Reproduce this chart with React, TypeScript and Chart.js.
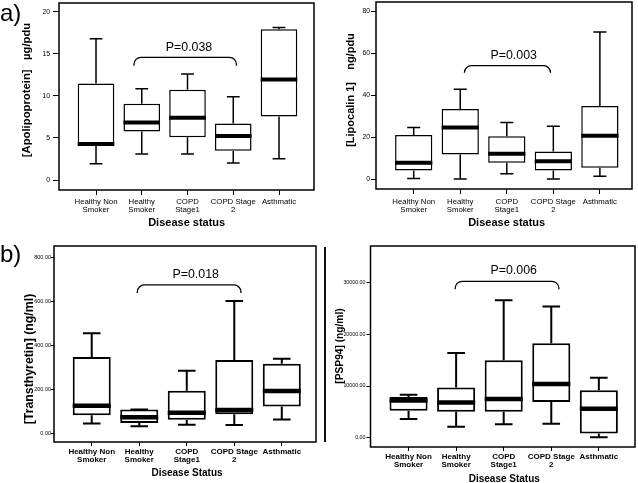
import React, { useEffect, useRef } from "react";
import { Chart, registerables } from "chart.js";
Chart.register(...registerables);

const categories: string[][] = [
  ["Healthy Non", "Smoker"],
  ["Healthy", "Smoker"],
  ["COPD", "Stage1"],
  ["COPD Stage", "2"],
  ["Asthmatic"],
];

// a) left: [Apolipoprotein] µg/pdu
const apoMin = [1.94, 3.09, 3.09, 2.02, 2.53];
const apoQ1 = [4.05, 5.78, 5.1, 3.49, 7.56];
const apoMedian = [4.3, 6.85, 7.4, 5.23, 11.96];
const apoQ3 = [11.5, 9.07, 10.73, 6.73, 17.94];
const apoMax = [16.8, 10.85, 12.63, 9.9, 18.14];
const apoTicks = [0, 5, 10, 15, 20];

// a) right: [Lipocalin 1] ng/pdu
const lipMin = [0.3, 0, 2.5, 0, 1.3];
const lipQ1 = [4.1, 11.7, 7.75, 4.1, 5.4];
const lipMedian = [7.75, 24.5, 12.0, 8.4, 20.6];
const lipQ3 = [21.0, 33.4, 20.4, 13.1, 34.8];
const lipMax = [24.5, 42.8, 26.9, 25.1, 70.0];
const lipTicks = [0, 20, 40, 60, 80];

// b) left: [Transthyretin] (ng/ml)
const ttrMin = [43, 31, 38, 36, 61];
const ttrQ1 = [81, 45, 60, 85, 120];
const ttrMedian = [124, 72, 92, 105, 191];
const ttrQ3 = [345, 107, 192, 332, 315];
const ttrMax = [453, 107, 283, 600, 338];
const ttrTicks = [0, 200, 400, 600, 800];

// b) right: [PSP94] (ng/ml)
const pspMin = [3600, 2100, 2600, 2700, 100];
const pspQ1 = [5200, 5000, 5000, 6900, 800];
const pspMedian = [7200, 6800, 7500, 10400, 5600];
const pspQ3 = [7900, 9700, 15000, 18300, 9200];
const pspMax = [8300, 16400, 26600, 25400, 11600];
const pspTicks = [0, 10000, 20000, 30000];

// significance brackets: compared groups Healthy Smoker vs COPD Stage 2
const pLabels = ["P=0.038", "P=0.003", "P=0.018", "P=0.006"];

const SANS = "'Liberation Sans', Arial, Helvetica, sans-serif";

type Panel = {
  left: number; top: number; w: number; h: number;
  padTop: number; padRight: number; yWidth: number; xHeight: number;
  xMin: number; xMax: number; yMin: number; yMax: number;
  yTicks: number[]; yFmt: (v: number) => string;
  yFont: any; yTickLen: number; yTickPad: number;
  xFont: any; xTickLen: number; xTickPad: number;
  min: number[]; q1: number[]; med: number[]; q3: number[]; max: number[];
  capW: number; lineW: number; medW: number; boxW: number; frameW: number;
  bracket: { x1: number; x2: number; yTop: number; yEnd: number };
};

const panels: Panel[] = [
  {
    left: 0, top: 0, w: 318, h: 240, padTop: 3, padRight: 4, yWidth: 59, xHeight: 50,
    xMin: -0.809, xMax: 4.765, yMin: -1.19, yMax: 21.07,
    yTicks: apoTicks, yFmt: (v) => String(v),
    yFont: { family: SANS, size: 6.8 }, yTickLen: 6, yTickPad: 3,
    xFont: { family: SANS, size: 7.8, lineHeight: 1 }, xTickLen: 5, xTickPad: 3,
    min: apoMin, q1: apoQ1, med: apoMedian, q3: apoQ3, max: apoMax,
    capW: 0.28, lineW: 1.5, medW: 4, boxW: 1.5, frameW: 1.5,
    bracket: { x1: 0.83, x2: 3.07, yTop: 14.6, yEnd: 13.6 },
  },
  {
    left: 318, top: 0, w: 320, h: 240, padTop: 2, padRight: 6, yWidth: 58, xHeight: 51,
    xMin: -0.81, xMax: 4.69, yMin: -4.76, yMax: 84.3,
    yTicks: lipTicks, yFmt: (v) => String(v),
    yFont: { family: SANS, size: 6.8 }, yTickLen: 5, yTickPad: 1,
    xFont: { family: SANS, size: 7.8, lineHeight: 1 }, xTickLen: 5, xTickPad: 4,
    min: lipMin, q1: lipQ1, med: lipMedian, q3: lipQ3, max: lipMax,
    capW: 0.28, lineW: 1.5, medW: 4, boxW: 1.5, frameW: 1.5,
    bracket: { x1: 1.09, x2: 2.94, yTop: 54, yEnd: 50.6 },
  },
  {
    left: 0, top: 240, w: 318, h: 243, padTop: 6, padRight: 2, yWidth: 54, xHeight: 41,
    xMin: -0.794, xMax: 4.72, yMin: -40.9, yMax: 850,
    yTicks: ttrTicks, yFmt: (v) => v.toFixed(2),
    yFont: { family: SANS, size: 5.5 }, yTickLen: 3, yTickPad: 0,
    xFont: { family: SANS, size: 8, weight: "bold", lineHeight: 1 }, xTickLen: 4, xTickPad: 2,
    min: ttrMin, q1: ttrQ1, med: ttrMedian, q3: ttrQ3, max: ttrMax,
    capW: 0.37, lineW: 2, medW: 4.5, boxW: 2, frameW: 1.5,
    bracket: { x1: 0.96, x2: 3.14, yTop: 673, yEnd: 636 },
  },
  {
    left: 318, top: 240, w: 320, h: 243, padTop: 6, padRight: 3, yWidth: 52.5, xHeight: 36,
    xMin: -0.8, xMax: 4.76, yMin: -1800, yMax: 37100,
    yTicks: pspTicks, yFmt: (v) => v.toFixed(2),
    yFont: { family: SANS, size: 5.3 }, yTickLen: 4, yTickPad: 1,
    xFont: { family: SANS, size: 8, weight: "bold", lineHeight: 0.96 }, xTickLen: 4, xTickPad: 2,
    min: pspMin, q1: pspQ1, med: pspMedian, q3: pspQ3, max: pspMax,
    capW: 0.37, lineW: 2, medW: 4.5, boxW: 2, frameW: 1.5,
    bracket: { x1: 0.98, x2: 3.16, yTop: 30270, yEnd: 28720 },
  },
];

function makeChart(canvas: HTMLCanvasElement, p: Panel) {
  const boxPlugin = {
    id: "boxWhiskers",
    afterDatasetsDraw(chart: any) {
      const { ctx, chartArea } = chart;
      const xs = chart.scales.x;
      const ys = chart.scales.y;
      const meta = chart.getDatasetMeta(0);
      ctx.save();
      ctx.strokeStyle = "#000";
      ctx.lineCap = "butt";
      p.med.forEach((m, i) => {
        const bar = meta.data[i];
        const xc = xs.getPixelForValue(i);
        const half = bar.width / 2;
        const cap = Math.abs(xs.getPixelForValue(i + p.capW / 2) - xc);
        const yMax = ys.getPixelForValue(p.max[i]);
        const yMin = ys.getPixelForValue(p.min[i]);
        const yQ1 = ys.getPixelForValue(p.q1[i]);
        const yQ3 = ys.getPixelForValue(p.q3[i]);
        ctx.lineWidth = p.lineW;
        ctx.beginPath();
        ctx.moveTo(xc, yQ3);
        ctx.lineTo(xc, yMax);
        ctx.moveTo(xc - cap, yMax);
        ctx.lineTo(xc + cap, yMax);
        ctx.moveTo(xc, yQ1);
        ctx.lineTo(xc, yMin);
        ctx.moveTo(xc - cap, yMin);
        ctx.lineTo(xc + cap, yMin);
        ctx.stroke();
        const yMed = ys.getPixelForValue(m);
        ctx.lineWidth = p.medW;
        ctx.beginPath();
        ctx.moveTo(xc - half, yMed);
        ctx.lineTo(xc + half, yMed);
        ctx.stroke();
      });
      // frame
      ctx.lineWidth = p.frameW;
      ctx.strokeRect(chartArea.left, chartArea.top, chartArea.right - chartArea.left, chartArea.bottom - chartArea.top);
      // bracket
      const b = p.bracket;
      const x1 = xs.getPixelForValue(b.x1);
      const x2 = xs.getPixelForValue(b.x2);
      const yt = ys.getPixelForValue(b.yTop);
      const ye = ys.getPixelForValue(b.yEnd);
      const r = Math.min(7, ye - yt);
      ctx.lineWidth = 1.3;
      ctx.beginPath();
      ctx.moveTo(x1, ye);
      ctx.arcTo(x1, yt, x1 + r, yt, r);
      ctx.lineTo(x2 - r, yt);
      ctx.arcTo(x2, yt, x2, ye, r);
      ctx.lineTo(x2, ye);
      ctx.stroke();
      ctx.restore();
    },
  };

  return new Chart(canvas, {
    type: "bar",
    data: {
      datasets: [
        {
          data: p.q1.map((lo, i) => ({ x: i, y: [lo, p.q3[i]] })) as any,
          backgroundColor: "#fff",
          borderColor: "#000",
          borderWidth: p.boxW,
          borderSkipped: false,
          barPercentage: 1,
          categoryPercentage: 0.8,
        },
      ],
    },
    options: {
      responsive: false,
      animation: false,
      devicePixelRatio: 1,
      layout: { padding: { top: p.padTop, right: p.padRight, left: 0, bottom: 0 }, autoPadding: false } as any,
      plugins: { legend: { display: false }, tooltip: { enabled: false } },
      scales: {
        x: {
          type: "linear",
          min: p.xMin,
          max: p.xMax,
          offset: false,
          afterBuildTicks: (s: any) => {
            s.ticks = categories.map((_, i) => ({ value: i }));
          },
          afterFit: (s: any) => {
            s.height = p.xHeight;
            s.paddingLeft = 0;
            s.paddingRight = 0;
          },
          grid: { display: true, offset: false, drawOnChartArea: false, drawTicks: true, tickLength: p.xTickLen, color: "#000", lineWidth: 1 },
          border: { display: false },
          ticks: {
            autoSkip: false,
            maxRotation: 0,
            minRotation: 0,
            padding: p.xTickPad,
            color: "#000",
            font: p.xFont,
            callback: (v: any) => categories[v] ?? "",
          },
        } as any,
        y: {
          type: "linear",
          min: p.yMin,
          max: p.yMax,
          afterBuildTicks: (s: any) => {
            s.ticks = p.yTicks.map((v) => ({ value: v }));
          },
          afterFit: (s: any) => {
            s.width = p.yWidth;
            s.paddingTop = 0;
            s.paddingBottom = 0;
          },
          grid: { display: true, drawOnChartArea: false, drawTicks: true, tickLength: p.yTickLen, color: "#000", lineWidth: 1 },
          border: { display: false },
          ticks: {
            padding: p.yTickPad,
            color: "#000",
            font: p.yFont,
            callback: (v: any) => p.yFmt(Number(v)),
          },
        } as any,
      },
    },
    plugins: [boxPlugin],
  } as any);
}

function PanelChart({ p }: { p: Panel }) {
  const ref = useRef<HTMLCanvasElement | null>(null);
  useEffect(() => {
    if (!ref.current) return;
    const c = makeChart(ref.current, p);
    return () => c.destroy();
  }, [p]);
  return (
    <canvas
      ref={ref}
      width={p.w}
      height={p.h}
      style={{ position: "absolute", left: p.left, top: p.top, width: p.w, height: p.h }}
    />
  );
}

function Txt(props: { x: number; y: number; text: string; size: number; bold?: boolean; rotate?: boolean; family?: string }) {
  return (
    <div
      style={{
        position: "absolute",
        left: props.x,
        top: props.y,
        transform: `translate(-50%, -50%)${props.rotate ? " rotate(-90deg)" : ""}`,
        whiteSpace: "pre",
        fontFamily: props.family ?? SANS,
        fontSize: props.size,
        fontWeight: props.bold ? "bold" : "normal",
        lineHeight: 1,
        color: "#000",
      }}
    >
      {props.text}
    </div>
  );
}

export default function App() {
  return (
    <div style={{ position: "absolute", left: 0, top: 0, width: 638, height: 483, background: "#fff", overflow: "hidden" }}>
      {panels.map((p, i) => (
        <PanelChart key={i} p={p} />
      ))}
      {/* panel letters */}
      <div style={{ position: "absolute", left: 0, top: 1, fontFamily: SANS, fontSize: 24, lineHeight: "24px" }}>a)</div>
      <div style={{ position: "absolute", left: 0, top: 242, fontFamily: SANS, fontSize: 24, lineHeight: "24px" }}>b)</div>
      {/* y titles */}
      <Txt x={26.5} y={90} text={"[Apolipoprotein]   µg/pdu"} size={11.3} bold rotate />
      <Txt x={349.5} y={90} text={"[Lipocalin 1]    ng/pdu"} size={11} bold rotate />
      <Txt x={28.5} y={359} text={"[Transthyretin] (ng/ml)"} size={12.3} bold rotate />
      <Txt x={339.5} y={345.5} text={"[PSP94] (ng/ml)"} size={10.2} bold rotate />
      {/* x titles */}
      <Txt x={186.7} y={221.7} text="Disease status" size={11} bold />
      <Txt x={506.7} y={221.7} text="Disease status" size={11} bold />
      <Txt x={187} y={473.3} text="Disease Status" size={10} bold />
      <Txt x={504.3} y={479.3} text="Disease Status" size={10} bold />
      {/* p-values */}
      <Txt x={189} y={47.2} text={pLabels[0]} size={12.4} />
      <Txt x={513.7} y={55} text={pLabels[1]} size={12.4} />
      <Txt x={195.7} y={273.5} text={pLabels[2]} size={12.4} />
      <Txt x={513.7} y={270} text={pLabels[3]} size={12.4} />
      {/* stray border line from source figure */}
      <div style={{ position: "absolute", left: 324, top: 247, width: 1.5, height: 195, background: "#111" }} />
    </div>
  );
}
